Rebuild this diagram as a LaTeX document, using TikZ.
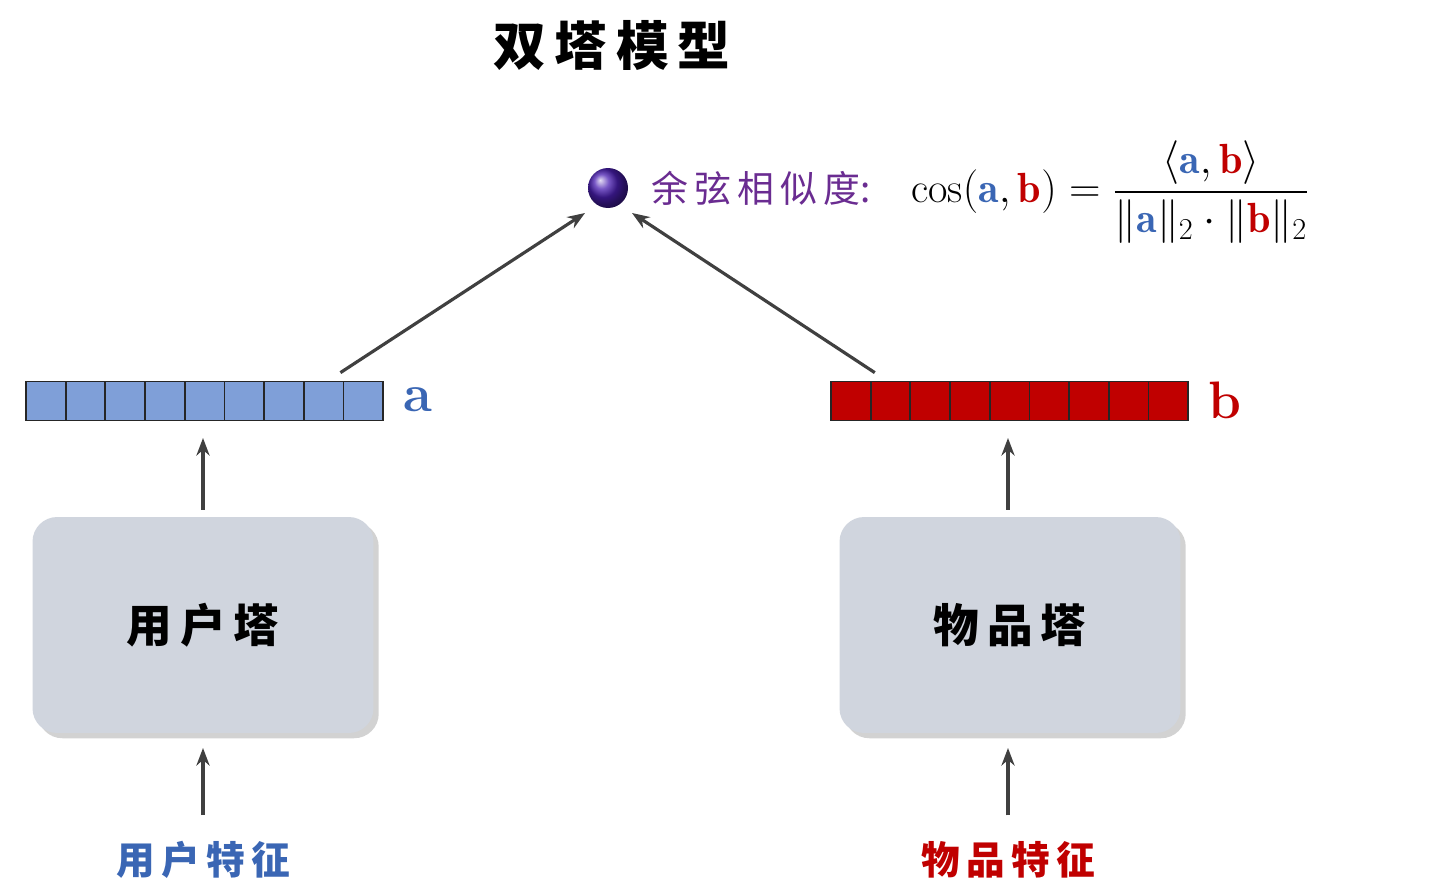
\documentclass[tikz,border=0pt]{standalone}
\usepackage{amsmath}
\usepackage{fontspec}
\usepackage{tikz}
\usetikzlibrary{arrows.meta, positioning, shadows, calc}
\newfontfamily\cjk{Noto Sans CJK SC}
\definecolor{vecblue}{HTML}{7F9FD8}
\definecolor{txtblue}{HTML}{3A66B4}
\definecolor{vecred}{HTML}{C00000}
\definecolor{simpurple}{HTML}{6A2C91}
\definecolor{towergray}{HTML}{D0D5DE}
\definecolor{arrowgray}{HTML}{404040}

\begin{document}
\begin{tikzpicture}[x=0.02cm, y=-0.02cm,
    cell/.style={rectangle, draw=black!85, line width=1pt, minimum width=0.794cm,
                 minimum height=0.78cm, inner sep=0pt},
    tower/.style={rectangle, rounded corners=14pt, fill=towergray, minimum width=6.82cm,
                  minimum height=4.32cm, drop shadow={opacity=0.35, shadow xshift=3pt, shadow yshift=-3pt},
                  font=\cjk\bfseries\fontsize{26}{30}\selectfont},
    link/.style={-{Stealth[length=10pt]}, line width=1.8pt, arrowgray},
    feat/.style={font=\cjk\bfseries\fontsize{22}{26}\selectfont},
]
\useasboundingbox (0,0) rectangle (1444,882);
\fill[white!97!blue!2] (0,0) rectangle (1444,882);

% Title
\node[font=\cjk\bfseries\fontsize{30}{36}\selectfont] (title) at (612,45) {双\,塔\,模\,型};

% Similarity
\shade[ball color=simpurple!70!blue] (608,188) circle (20);
\coordinate (sim) at (608,188);
\node[font=\cjk\fontsize{21}{26}\selectfont, text=simpurple, anchor=west] (simlabel) at (645,188) {余\,弦\,相\,似\,度:};
\node[font=\fontsize{24}{28}\selectfont, anchor=west] (formula) at (905,192)
  {$\cos(\textcolor{txtblue}{\mathbf{a}},\textcolor{vecred}{\mathbf{b}}) = \dfrac{\langle\textcolor{txtblue}{\mathbf{a}},\textcolor{vecred}{\mathbf{b}}\rangle}{\lVert\textcolor{txtblue}{\mathbf{a}}\rVert_2\cdot\lVert\textcolor{vecred}{\mathbf{b}}\rVert_2}$};

% Vectors
\foreach \i in {0,...,8} {
  \node[cell, fill=vecblue] (a\i) at ({45.8+39.7*\i},401) {};
  \node[cell, fill=vecred] (b\i) at ({850.8+39.7*\i},401) {};
}
\node[font=\bfseries\fontsize{30}{34}\selectfont, text=txtblue] (alabel) at (418,400) {a};
\node[font=\bfseries\fontsize{30}{34}\selectfont, text=vecred] (blabel) at (1225,400) {b};

% Towers
\node[tower] (user) at (203,625) {用\,户\,塔};
\node[tower] (item) at (1010,625) {物\,品\,塔};

% Features
\node[feat, text=txtblue] (ufeat) at (203,860) {用\,户\,特\,征};
\node[feat, text=vecred] (ifeat) at (1008,860) {物\,品\,特\,征};

% Arrows
\draw[link] (a7.north east) ++(-4,-8) coordinate (astart) -- (585,213);
\draw[link] (b1.north west) ++(5,-8) coordinate (bstart) -- (632,213);
\draw[link] (user.north) ++(0,-7) -- (203,438);
\draw[link] (item.north) ++(-2,-7) -- (1008,438);
\draw[link] (ufeat.north) ++(0,-20) -- (203,748);
\draw[link] (ifeat.north) ++(0,-20) -- (1008,748);
\end{tikzpicture}
\end{document}
